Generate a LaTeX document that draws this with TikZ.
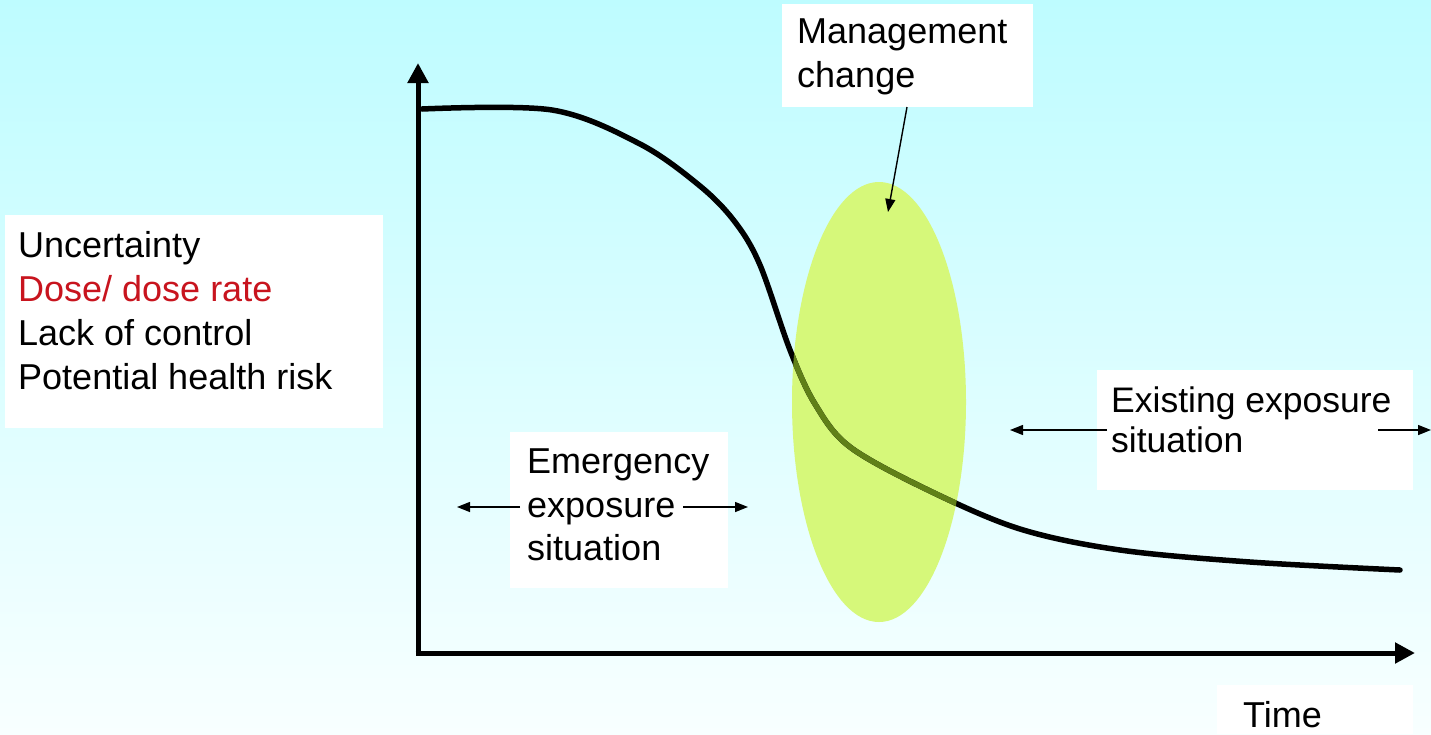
\documentclass[tikz,border=0pt]{standalone}
\usepackage{fontspec}
\setmainfont{Liberation Sans}
\usetikzlibrary{arrows.meta}
\definecolor{bgtop}{RGB}{190,252,255}
\definecolor{bgbot}{RGB}{248,255,255}
\definecolor{limefill}{RGB}{214,248,122}
\definecolor{olivecurve}{RGB}{96,128,24}
\definecolor{dosered}{RGB}{200,20,30}
\begin{document}
\begin{tikzpicture}[x=1pt,y=-1pt,
  box/.style={fill=white, inner sep=0pt, draw=none},
  lbl/.style={inner sep=0pt, align=left, anchor=west, font=\fontsize{36}{43.5}\selectfont},
  axisline/.style={line width=5pt, -{Triangle[length=20pt,width=20pt]}},
  thinarrow/.style={line width=1.4pt, -{Triangle[length=13pt,width=10pt]}},
  curveline/.style={line width=5.5pt, line join=round, line cap=round},
]
\def\dosecurve{plot[smooth, tension=0.55] coordinates {(422,109) (552,110) (640,144) (700,186) (735,222) (760,265) (790,350) (815,404) (850,447) (930,491) (1020,529) (1120,550) (1250,562) (1400,570)}}
% background
\shade[top color=bgtop, bottom color=bgbot] (0,0) rectangle (1431,734);
\useasboundingbox (0,0) rectangle (1431,734);
% boxes
\node[box, minimum width=378pt, minimum height=213pt] (leftbox) at (194,321.5) {};
\node[box, minimum width=251pt, minimum height=103pt] (mgmtbox) at (907.5,55.5) {};
\node[box, minimum width=218pt, minimum height=156pt] (emerbox) at (619,510) {};
\node[box, minimum width=316pt, minimum height=120pt] (existbox) at (1255,430) {};
\node[box, minimum width=196pt, minimum height=49pt] (timebox) at (1315,709.5) {};
% texts
\node[lbl, font=\fontsize{36}{44}\selectfont] (factors) at (18,311) {Uncertainty\\\textcolor{dosered}{Dose/ dose rate}\\Lack of control\\Potential health risk};
\node[lbl] (mgmt) at (797,57) {Management\\change};
\node[lbl] (emer) at (527,505) {Emergency\\exposure\\situation};
\node[lbl, font=\fontsize{35.5}{40}\selectfont] (exist) at (1111,420) {Existing exposure\\situation};
\node[lbl] (time) at (1243,715) {Time};
% ellipse
\fill[limefill] (879,402) ellipse [x radius=87, y radius=220];
% axes
\coordinate (origin) at (418,653);
\coordinate (ytop) at (418,63);
\coordinate (xend) at (1415,653);
\coordinate (ycorner) at (418,655.5);
\coordinate (xcorner) at (415.5,653);
\draw[axisline] (ycorner) -- (ytop);
\draw[axisline] (xcorner) -- (xend);
% curve
\draw[curveline] \dosecurve;
\begin{scope}
  \clip (879,402) ellipse [x radius=87, y radius=220];
  \draw[curveline, olivecurve] \dosecurve;
\end{scope}
% arrows
\coordinate (eL0) at (520,507); \coordinate (eL1) at (457,507);
\coordinate (eR0) at (683,507); \coordinate (eR1) at (748,507);
\draw[thinarrow] (eL0) -- (eL1);
\draw[thinarrow] (eR0) -- (eR1);
\coordinate (xL0) at (1107,430); \coordinate (xL1) at (1010,430);
\coordinate (xR0) at (1378,430); \coordinate (xR1) at (1431,430);
\draw[thinarrow] (xL0) -- (xL1);
\draw[thinarrow] (xR0) -- (xR1);
\coordinate (mA0) at (907,107); \coordinate (mA1) at (888,212);
\draw[thinarrow] (mA0) -- (mA1);
\end{tikzpicture}
\end{document}
